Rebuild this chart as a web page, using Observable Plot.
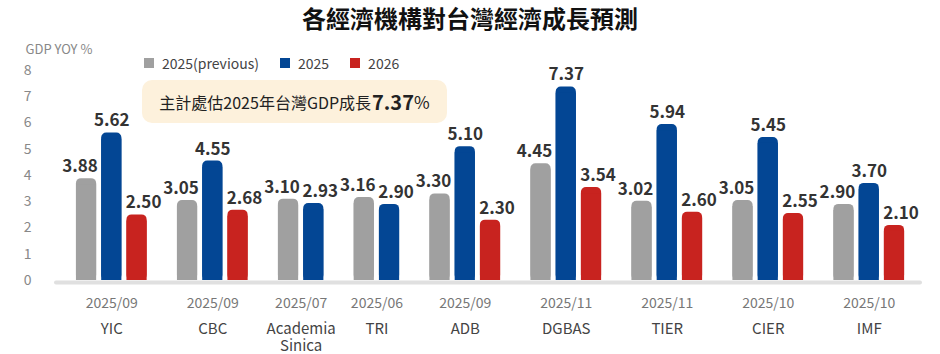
<!DOCTYPE html>
<html>
<head>
<meta charset="utf-8">
<script src="https://cdn.jsdelivr.net/npm/d3@7"></script>
<script src="https://cdn.jsdelivr.net/npm/@observablehq/plot@0.6"></script>
<style>
  html, body { margin: 0; padding: 0; background: #fff; }
  body { font-family: "Noto Sans CJK TC", "Noto Sans", sans-serif; }
  #wrap { position: relative; width: 940px; height: 354px; overflow: hidden; }
  #title { height: 36px; line-height: 36px; text-align: center; font-size: 24px; font-weight: bold; color: #111; }
  #legend { position: absolute; left: 144px; top: 54px; display: flex; font-size: 14px; color: #444; line-height: 18px; }
  #legend .item { display: flex; align-items: center; margin-right: 21px; }
  #legend .sw { width: 10px; height: 10px; margin-right: 8px; }
  #note { position: absolute; left: 142px; top: 80px; width: 305px; height: 43px; background: #fdf1dc; border-radius: 10px;
          display: flex; align-items: center; justify-content: center; font-size: 16px; color: #222; }
  #note b { font-size: 20px; font-weight: bold; margin-left: 1px; }
  #note span.pct { font-size: 17px; }
</style>
</head>
<body>
<div id="wrap">
  <div id="title"></div>
  <div id="chart"></div>
  <div id="legend"></div>
  <div id="note"></div>
</div>
<script>
const title = "各經濟機構對台灣經濟成長預測";
const yLabel = "GDP YOY %";
const institutions = ["YIC", "CBC", "Academia\nSinica", "TRI", "ADB", "DGBAS", "TIER", "CIER", "IMF"];
const dates = ["2025/09", "2025/09", "2025/07", "2025/06", "2025/09", "2025/11", "2025/11", "2025/10", "2025/10"];
const seriesNames = ["2025(previous)", "2025", "2026"];
const seriesColors = ["#a0a0a0", "#034694", "#c8231f"];
const prev2025 = [3.88, 3.05, 3.10, 3.16, 3.30, 4.45, 3.02, 3.05, 2.90];
const fc2025 = [5.62, 4.55, 2.93, 2.90, 5.10, 7.37, 5.94, 5.45, 3.70];
const fc2026 = [2.50, 2.68, null, null, 2.30, 3.54, 2.60, 2.55, 2.10];
const yTicks = [0, 1, 2, 3, 4, 5, 6, 7, 8];
const noteText = "主計處估2025年台灣GDP成長";
const noteValue = "7.37";
const noteUnit = "%";

// build bar table: one slot per bar, one empty slot between institutions
const seriesValues = [prev2025, fc2025, fc2026];
const bars = [];
const groups = [];
let slot = 0;
institutions.forEach((inst, i) => {
  const members = [];
  seriesValues.forEach((vals, s) => {
    if (vals[i] != null) {
      const b = {inst, series: seriesNames[s], value: vals[i], pos: slot};
      bars.push(b); members.push(b); slot++;
    }
  });
  const center = d3.mean(members, d => d.pos);
  members.forEach(b => { b.labelX = b.pos + Math.sign(b.pos - center) * 0.26; });
  groups.push({inst, date: dates[i], center});
  slot++;
});
const lastSlot = slot - 2;

document.getElementById("title").textContent = title;
const legend = document.getElementById("legend");
seriesNames.forEach((n, i) => {
  const it = document.createElement("div"); it.className = "item";
  const sw = document.createElement("div"); sw.className = "sw"; sw.style.background = seriesColors[i];
  const tx = document.createElement("span"); tx.textContent = n;
  it.appendChild(sw); it.appendChild(tx); legend.appendChild(it);
});
const note = document.getElementById("note");
note.innerHTML = "";
note.appendChild(document.createTextNode(noteText));
const nb = document.createElement("b"); nb.textContent = noteValue; note.appendChild(nb);
const np = document.createElement("span"); np.className = "pct"; np.textContent = noteUnit; note.appendChild(np);

const chart = Plot.plot({
  width: 940,
  height: 318,
  marginTop: 34,
  marginBottom: 74,
  marginLeft: 56,
  marginRight: 20,
  style: {fontFamily: '"Noto Sans CJK TC", "Noto Sans", sans-serif', background: "transparent"},
  x: {type: "linear", domain: [-1.19, lastSlot + 1.03], axis: null},
  y: {domain: [0, 8], axis: null},
  color: {domain: seriesNames, range: seriesColors},
  marks: [
    Plot.axisY({ticks: yTicks, tickSize: 0, tickPadding: 25, fontSize: 14, color: "#888", label: null, tickFormat: d => String(d)}),
    Plot.text([yLabel], {frameAnchor: "top-left", dx: -31, dy: -26, textAnchor: "start", fill: "#888", fontSize: 13}),
    Plot.ruleY([0], {stroke: "#e0e0e0", strokeWidth: 4, strokeLinecap: "round", dy: 2}),
    Plot.rectY(bars, {x1: d => d.pos - 0.4, x2: d => d.pos + 0.4, y: "value", fill: "series", rx: 5, ry: 5}),
    Plot.rectY(bars, {x1: d => d.pos - 0.4, x2: d => d.pos + 0.4, y: "value", fill: "series", insetTop: 6}),
    Plot.text(bars, {x: "labelX", y: "value", text: d => d.value.toFixed(2), dy: -12, fontSize: 17, fontWeight: "bold", fill: "#333"}),
    Plot.text(groups, {x: "center", y: () => 0, text: "date", dy: 23, fontSize: 14, fill: "#777"}),
    Plot.text(groups, {x: "center", y: () => 0, text: "inst", dy: 41, lineAnchor: "top", lineHeight: 1.15, fontSize: 15, fill: "#444"})
  ]
});
document.getElementById("chart").appendChild(chart);
</script>
</body>
</html>
